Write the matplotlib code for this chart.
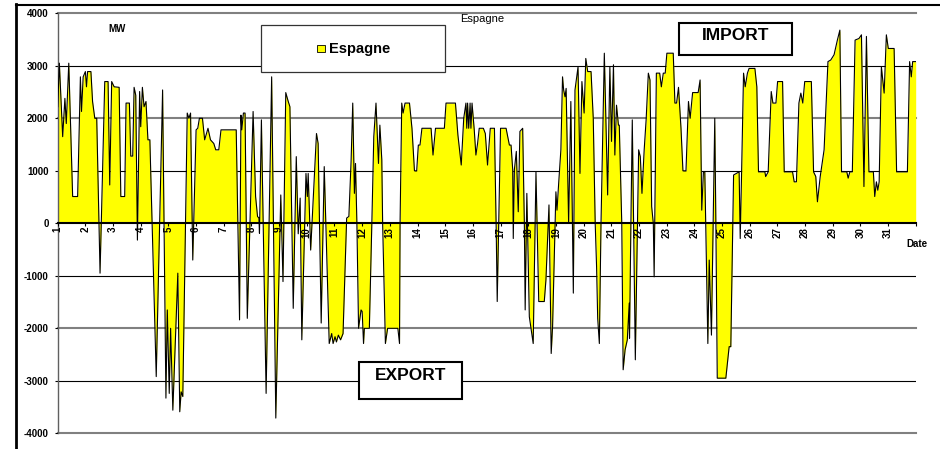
import numpy as np
import matplotlib
matplotlib.use("Agg")
from matplotlib import pyplot as plt
from matplotlib.patches import Rectangle
from matplotlib.lines import Line2D

plt.rcParams['font.family'] = ['Liberation Sans', 'DejaVu Sans']
plt.rcParams['axes.unicode_minus'] = False

# hourly exchange France <-> Espagne (day of month, MW)
days_w1 = [1.00, 1.06, 1.18, 1.26, 1.31, 1.40, 1.54, 1.72, 1.82, 1.86, 1.92, 2.00,
           2.04, 2.08, 2.20, 2.26, 2.34, 2.41, 2.53, 2.70, 2.82, 2.88, 2.95, 3.04,
           3.22, 3.28, 3.42, 3.47, 3.59, 3.64, 3.71, 3.76, 3.82, 3.88, 3.96, 4.00,
           4.06, 4.12, 4.19, 4.26, 4.33, 4.41, 4.56, 4.79, 4.91, 4.96, 5.03, 5.08,
           5.16, 5.34, 5.41, 5.46, 5.52, 5.68, 5.74, 5.80, 5.88, 6.00, 6.06, 6.12,
           6.23, 6.31, 6.43, 6.52, 6.64, 6.71, 6.82, 6.90, 7.45, 7.51, 7.57, 7.62,
           7.65, 7.71, 7.77, 7.85, 8.06, 8.15, 8.22, 8.27, 8.29, 8.36, 8.53, 8.73,
           8.88, 9.06, 9.14, 9.24, 9.33, 9.39, 9.51, 9.62, 9.69, 9.76, 9.82, 9.97,
           10.02, 10.05, 10.14, 10.35, 10.41, 10.52, 10.63, 10.81, 10.90, 10.95,
           11.02, 11.07, 11.14, 11.22, 11.31]
mw_w1 = [2220, 3050, 1650, 2380, 1900, 3050, 510, 510, 2790, 2130, 2790, 2890,
         2600, 2890, 2890, 2320, 2000, 2000, -950, 2700, 2700, 730, 2700, 2600,
         2590, 510, 510, 2290, 2290, 1280, 1280, 2590, 2440, -320, 2510, 1840,
         2590, 2220, 2320, 1590, 1590, 0, -2920, 2540, -3330, -1650, -3240, -2000,
         -3560, -950, -3590, -3210, -3300, 2100, 2000, 2100, -700, 1780, 1810, 2000,
         2000, 1590, 1810, 1590, 1520, 1400, 1400, 1780, 1780, 0, -1840, 2060,
         1780, 2100, 2100, -1810, 2130, 510, 130, 100, -190, 1970, -3240, 2790,
         -3710, 540, -1110, 2490, 2320, 2220, -1620, 1270, -200, 480, -2220, 950,
         510, 950, -510, 1710, 1520, -1900, 1080, -2290, -2100, -2290,
         -2160, -2260, -2130, -2220, -2100]

days_w2 = [11.44, 11.52, 11.60, 11.66, 11.72, 11.76, 11.81, 11.87, 11.96, 12.00,
           12.05, 12.08, 12.26, 12.35, 12.42, 12.50, 12.59, 12.64, 12.71, 12.74,
           12.84, 12.92, 13.29, 13.35, 13.37, 13.43, 13.48, 13.55, 13.71, 13.80,
           13.89, 13.97, 14.03, 14.09, 14.16, 14.49, 14.56, 14.65, 14.97, 15.03,
           15.37, 15.46, 15.58, 15.67, 15.75, 15.78, 15.81, 15.85, 15.90, 15.93,
           15.97, 16.05, 16.11, 16.17, 16.23, 16.38, 16.45, 16.53, 16.63, 16.78,
           16.84, 16.88, 17.00, 17.20, 17.32, 17.38, 17.44, 17.46, 17.50, 17.57,
           17.64, 17.70, 17.80, 17.86, 17.89, 17.95, 18.04, 18.18, 18.28, 18.38,
           18.58, 18.64, 18.75, 18.83, 18.88, 19.00, 19.04, 19.10, 19.18, 19.24,
           19.28, 19.33, 19.37, 19.46, 19.54, 19.63, 19.69, 19.80, 19.87, 19.94,
           20.02, 20.08, 20.15, 20.27, 20.35, 20.42, 20.47, 20.51, 20.57, 20.63,
           20.75, 20.87, 20.95, 21.01, 21.08, 21.13, 21.19, 21.26, 21.29, 21.38,
           21.43, 21.50, 21.58, 21.65]
mw_w2 = [100, 130, 1180, 2290, 570, 1140, 0, -2000, -1650, -1680,
         -2290, -2000, -2000, 0, 1650, 2290, 1140, 1870, 1210, 0,
         -2290, -2000, -2000, -2290, 0, 2290, 2100, 2290, 2290, 1810,
         1000, 1000, 1490, 1490, 1810, 1810, 1300, 1810, 1810, 2290,
         2290, 1680, 1110, 2000, 2290, 1810, 2290, 1810, 2290, 1810,
         2290, 1780, 1300, 1520, 1810, 1810, 1710, 1110, 1810, 1810,
         0, -1490, 1810, 1810, 1490, 1490, 1020, -290, 1020, 1370,
         220, 1750, 1810, 0, -1650, 570, -1780, -2290, 980, -1490,
         -1490, -1080, 350, -2480, -1970, 600, 250, 760, 1400, 2790,
         2540, 2410, 2570, 0, 2320, -1330, 2540, 2980, 950, 2700,
         2100, 3140, 2890, 2890, 2000, 0, -830, -1810, -2290, 0,
         3240, 540, 2980, 1560, 3020, 1300, 2250, 1870, 1870, 0,
         -2790, -2410, -2220, -1520]

days_w3 = [21.66, 21.71, 21.76, 21.87, 21.99, 22.05, 22.11, 22.19, 22.26, 22.34,
           22.40, 22.46, 22.52, 22.55, 22.63, 22.75, 22.81, 22.88, 22.95, 23.01,
           23.24, 23.30, 23.36, 23.43, 23.52, 23.59, 23.70, 23.79, 23.85, 23.94,
           24.14, 24.21, 24.27, 24.33, 24.38, 24.49, 24.54, 24.62, 24.74, 24.78,
           24.83, 25.14, 25.26, 25.32, 25.42, 25.62, 25.66, 25.71, 25.78, 25.84,
           25.92, 25.98, 26.19, 26.26, 26.32, 26.55, 26.58, 26.67, 26.78, 26.84,
           26.95, 27.01, 27.19, 27.25, 27.55, 27.61, 27.69, 27.78, 27.85, 27.92,
           27.99, 28.23, 28.31, 28.39, 28.45, 28.55, 28.69, 28.83, 28.93, 29.05,
           29.17, 29.26, 29.32, 29.51, 29.56, 29.62, 29.71, 29.81, 29.95, 30.04,
           30.13, 30.22, 30.31, 30.47, 30.52, 30.58, 30.63, 30.68, 30.76, 30.86,
           30.94, 31.01, 31.22, 31.31, 31.70, 31.78, 31.84, 31.89, 32.00]
mw_w3 = [-2190, 0, 1970, -2600, 1400, 1270, 570, 1400, 1970, 2860,
         2730, 320, 0, -1020, 2860, 2860, 2600, 2860, 2860, 3240,
         3240, 2290, 2290, 2590, 1810, 1000, 1000, 2320, 2000, 2490,
         2490, 2730, 250, 980, 980, -2290, -700, -2130, 2000, 0,
         -2950, -2950, -2350, -2350, 920, 980, -290, 980, 2860, 2600,
         2860, 2950, 2950, 2600, 980, 980, 890, 980, 2510, 2290,
         2290, 2700, 2700, 980, 980, 790, 790, 2290, 2480, 2290,
         2700, 2700, 980, 890, 410, 890, 1400, 3080, 3110, 3210,
         3490, 3680, 980, 980, 860, 980, 980, 3490, 3520, 3590,
         700, 3560, 980, 980, 510, 790, 630, 790, 2980, 2480,
         3590, 3330, 3330, 980, 980, 3080, 2790, 3080, 3080]

day_ticks = list(range(1, 33))
day_labels = [str(d) for d in range(1, 32)] + ['']
y_ticks = list(range(-4000, 4001, 1000))

t = np.array(days_w1 + days_w2 + days_w3)
mw = np.array(mw_w1 + mw_w2 + mw_w3)

W, H = 940, 449
fig = plt.figure(figsize=(W / 100, H / 100), dpi=100)


def fx(px):
    return px / W


def fy(py):
    return 1 - py / H


ax = fig.add_axes([fx(57.7), fy(433.3), fx(915.7) - fx(57.7), fy(13.3) - fy(433.3)])

# gridlines, drawn under the area
for v in y_ticks:
    if v == 0:
        continue
    if v % 2000 == 0:
        ax.axhline(v, color='#808080', lw=1.5, zorder=1, clip_on=False)
    else:
        ax.axhline(v, color='black', lw=0.8, zorder=1)

ax.fill_between(t, mw, 0, color='#FFFF00', lw=0, zorder=2)
ax.plot(t, mw, color='black', lw=0.8, zorder=3)

ax.set_xlim(1, 32)
ax.set_ylim(-4000, 4000)

ax.spines['top'].set_visible(False)
ax.spines['right'].set_visible(False)
ax.spines['bottom'].set_position(('data', 0))
ax.spines['bottom'].set_linewidth(1.5)
ax.spines['bottom'].set_zorder(4)
ax.spines['left'].set_color('#606060')
ax.spines['left'].set_linewidth(1.0)
ax.xaxis.set_zorder(5)

ax.set_xticks(day_ticks)
ax.set_xticklabels(day_labels, rotation=90, fontsize=7, fontweight='bold')
ax.tick_params(axis='x', direction='out', length=2, width=0.8, pad=0.5)
ax.set_yticks(y_ticks)
ax.set_yticklabels([str(v) for v in y_ticks], fontsize=7, fontweight='bold')
ax.tick_params(axis='y', direction='out', length=2.5, width=0.8, pad=4)

# chart frame
fig.add_artist(Line2D([fx(16), 1], [fy(4.5), fy(4.5)], color='black', lw=1.5,
                      transform=fig.transFigure))
fig.add_artist(Line2D([fx(15.5), fx(15.5)], [fy(4), 0], color='black', lw=2,
                      transform=fig.transFigure))

fig.text(fx(482), fy(19), 'Espagne', ha='center', va='center', fontsize=8)
fig.text(fx(117), fy(29.5), 'MW', ha='center', va='center', fontsize=7,
         fontweight='bold')
fig.text(fx(917), fy(244), 'Date', ha='center', va='center', fontsize=7,
         fontweight='bold')

# legend box
fig.add_artist(Rectangle((fx(261), fy(72)), fx(445) - fx(261), fy(25) - fy(72),
                         transform=fig.transFigure, facecolor='white',
                         edgecolor='#333333', lw=0.9, zorder=5))
fig.add_artist(Rectangle((fx(317), fy(52)), fx(325) - fx(317), fy(45) - fy(52),
                         transform=fig.transFigure, facecolor='#FFFF00',
                         edgecolor='black', lw=0.6, zorder=6))
fig.text(fx(329), fy(48.5), 'Espagne', ha='left', va='center', fontsize=10.5,
         fontweight='bold', zorder=7)

# IMPORT / EXPORT boxes
for (x0, y0, x1, y1, txt, ty) in [(679, 23, 792, 55, 'IMPORT', 36),
                                  (359, 362, 462, 399, 'EXPORT', 375.5)]:
    fig.add_artist(Rectangle((fx(x0), fy(y1)), fx(x1) - fx(x0), fy(y0) - fy(y1),
                             transform=fig.transFigure, facecolor='white',
                             edgecolor='black', lw=1.5, zorder=5))
    fig.text(fx((x0 + x1) / 2), fy(ty), txt, ha='center', va='center',
             fontsize=12.5, fontweight='bold', zorder=7)

fig.savefig('out.png', dpi=100)
